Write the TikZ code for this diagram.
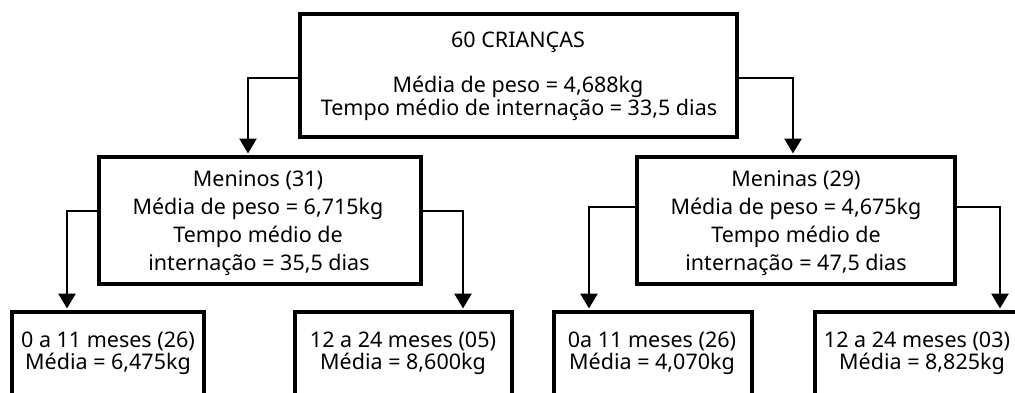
\documentclass[tikz,border=0pt]{standalone}
\usepackage{fontspec}
\setmainfont{Noto Sans}
\usetikzlibrary{arrows.meta}
\tikzset{
  box/.style={draw=black, line width=4pt, inner sep=0pt, minimum width=#1},
  conn/.style={draw=black, line width=2.8pt, -{Triangle[width=17pt,length=15pt]}, shorten >=1.5pt},
  txt/.style={anchor=base, inner sep=0pt, font=\fontsize{21.5}{24}\selectfont}
}
\begin{document}
\begin{tikzpicture}[x=1pt,y=1pt]
\useasboundingbox (0,0) rectangle (1015,-392);
\clip (0,0) rectangle (1015,-392);
% boxes
\node[box=437, minimum height=123] (top) at (518.5,-75.5) {};
\node[box=322, minimum height=127] (meninos) at (260,-220.5) {};
\node[box=318, minimum height=127] (meninas) at (796,-220.5) {};
\node[box=192, minimum height=108] (b1) at (108,-366) {};
\node[box=217, minimum height=108] (b2) at (403.5,-366) {};
\node[box=198, minimum height=108] (b3) at (653,-366) {};
\node[box=218, minimum height=108] (b4) at (924,-366) {};
% texts
\node[txt] (t1) at (518,-47) {60 CRIANÇAS};
\node[txt] (t2) at (518,-92) {Média de peso = 4,688kg};
\node[txt] (t3) at (519,-115) {Tempo médio de internação = 33,5 dias};
\node[txt] (m1) at (258,-186) {Meninos (31)};
\node[txt] (m2) at (258,-214) {Média de peso = 6,715kg};
\node[txt] (m3) at (258,-242) {Tempo médio de};
\node[txt] (m4) at (259,-270) {internação = 35,5 dias};
\node[txt] (f1) at (796,-186) {Meninas (29)};
\node[txt] (f2) at (796,-214) {Média de peso = 4,675kg};
\node[txt] (f3) at (796,-242) {Tempo médio de};
\node[txt] (f4) at (796,-270) {internação = 47,5 dias};
\node[txt] (a1) at (108,-347) {0 a 11 meses (26)};
\node[txt] (a2) at (108,-369) {Média = 6,475kg};
\node[txt] (c1) at (403,-347) {12 a 24 meses (05)};
\node[txt] (c2) at (403,-369) {Média = 8,600kg};
\node[txt] (d1) at (652,-347) {0a 11 meses (26)};
\node[txt] (d2) at (652,-369) {Média = 4,070kg};
\node[txt] (e1) at (917,-347) {12 a 24 meses (03)};
\node[txt] (e2) at (922,-369) {Média = 8,825kg};
% connectors
\draw[conn] ([yshift=-2.5pt]top.west) -| ([xshift=-12pt]meninos.north);
\draw[conn] ([yshift=-2.5pt]top.east) -| ([xshift=-3pt]meninas.north);
\draw[conn] ([yshift=9.5pt]meninos.west) -| ([xshift=-41pt]b1.north);
\draw[conn] ([yshift=9.5pt]meninos.east) -| ([xshift=59.5pt]b2.north);
\draw[conn] ([yshift=13.5pt]meninas.west) -| ([xshift=-64pt]b3.north);
\draw[conn] ([yshift=13.5pt]meninas.east) -| ([xshift=76pt]b4.north);
\end{tikzpicture}
\end{document}
